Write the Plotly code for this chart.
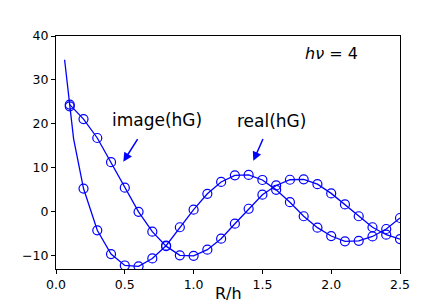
import plotly.graph_objects as go

# marker positions (R/h)
x_markers = [0.1, 0.2, 0.3, 0.4, 0.5, 0.6, 0.7, 0.8, 0.9, 1.0, 1.1, 1.2, 1.3,
             1.4, 1.5, 1.6, 1.7, 1.8, 1.9, 2.0, 2.1, 2.2, 2.3, 2.4, 2.5]

real_hG = [24.0, 5.3, -4.2, -9.6, -12.2, -12.4, -10.6, -7.7, -3.5, 0.5, 4.1, 6.8, 8.3,
           8.4, 7.25, 5.0, 2.2, -1.0, -3.6, -5.5, -6.7, -6.6, -5.6, -3.9, -1.4]

image_hG = [24.4, 21.1, 16.8, 11.3, 5.5, 0.0, -4.5, -7.8, -9.9, -10.0, -8.6, -6.1, -2.7,
            0.7, 3.9, 6.0, 7.3, 7.4, 6.3, 4.2, 1.7, -1.0, -3.5, -5.2, -6.2]

# extra points of the real(hG) curve near the origin (line only)
real_start_x = [0.0625, 0.1, 0.128]
real_start_y = [34.6, 24.0, 16.6]

x_ticks = [0.0, 0.5, 1.0, 1.5, 2.0, 2.5]
x_tick_text = ["0.0", "0.5", "1.0", "1.5", "2.0", "2.5"]
y_ticks = [-10, 0, 10, 20, 30, 40]
y_tick_text = ["\u221210", "0", "10", "20", "30", "40"]

BLUE = "#0000ff"

real_line_x = real_start_x + x_markers[1:]
real_line_y = real_start_y + real_hG[1:]

fig = go.Figure()
fig.add_trace(go.Scatter(x=real_line_x, y=real_line_y, mode="lines",
                         line=dict(color=BLUE, width=1.3), showlegend=False))
fig.add_trace(go.Scatter(x=x_markers, y=real_hG, mode="markers",
                         marker=dict(symbol="circle-open", size=9, color=BLUE,
                                     line=dict(width=1.2, color=BLUE)),
                         showlegend=False))
fig.add_trace(go.Scatter(x=x_markers, y=image_hG, mode="lines+markers",
                         line=dict(color=BLUE, width=1.3),
                         marker=dict(symbol="circle-open", size=9, color=BLUE,
                                     line=dict(width=1.2, color=BLUE)),
                         showlegend=False))

font_main = "DejaVu Sans"

annotations = [
    dict(x=0.734, y=21.0, xref="x", yref="y", text="image(hG)", showarrow=False,
         font=dict(family=font_main, size=17, color="black")),
    dict(x=1.5625, y=20.75, xref="x", yref="y", text="real(hG)", showarrow=False,
         font=dict(family=font_main, size=17, color="black")),
    dict(x=0.489, y=11.4, ax=0.600, ay=16.9, xref="x", yref="y", axref="x", ayref="y",
         text="", showarrow=True, arrowhead=2, arrowsize=1.2, arrowwidth=1.5,
         arrowcolor=BLUE, standoff=0),
    dict(x=1.434, y=11.6, ax=1.509, ay=16.9, xref="x", yref="y", axref="x", ayref="y",
         text="", showarrow=True, arrowhead=2, arrowsize=1.2, arrowwidth=1.5,
         arrowcolor=BLUE, standoff=0),
    dict(x=2.0, y=36.1, xref="x", yref="y", text="<i>h\u03bd</i> = 4", showarrow=False,
         font=dict(family=font_main, size=16, color="black")),
    # x axis title
    dict(x=1.25, y=0, xref="x", yref="paper", yanchor="middle", yshift=-24,
         text="R/h", showarrow=False,
         font=dict(family=font_main, size=16, color="black")),
]

# the page body adds an 8px offset, margins compensate for it
fig.update_layout(
    width=445, height=306,
    margin=dict(l=48, r=53, t=28, b=45),
    paper_bgcolor="white", plot_bgcolor="white",
    font=dict(family=font_main, size=12, color="black"),
    annotations=annotations,
    xaxis=dict(range=[0, 2.5], tickvals=x_ticks, ticktext=x_tick_text,
               showgrid=False, zeroline=False, showline=True, linecolor="black",
               linewidth=1, mirror=True, ticks="outside", ticklen=4,
               tickcolor="black", tickfont=dict(size=12.5)),
    yaxis=dict(range=[-13, 40], tickvals=y_ticks, ticktext=y_tick_text,
               showgrid=False, zeroline=False, showline=True, linecolor="black",
               linewidth=1, mirror=True, ticks="outside", ticklen=4,
               tickcolor="black", tickfont=dict(size=12.5)),
)

fig.write_html("out.html")
